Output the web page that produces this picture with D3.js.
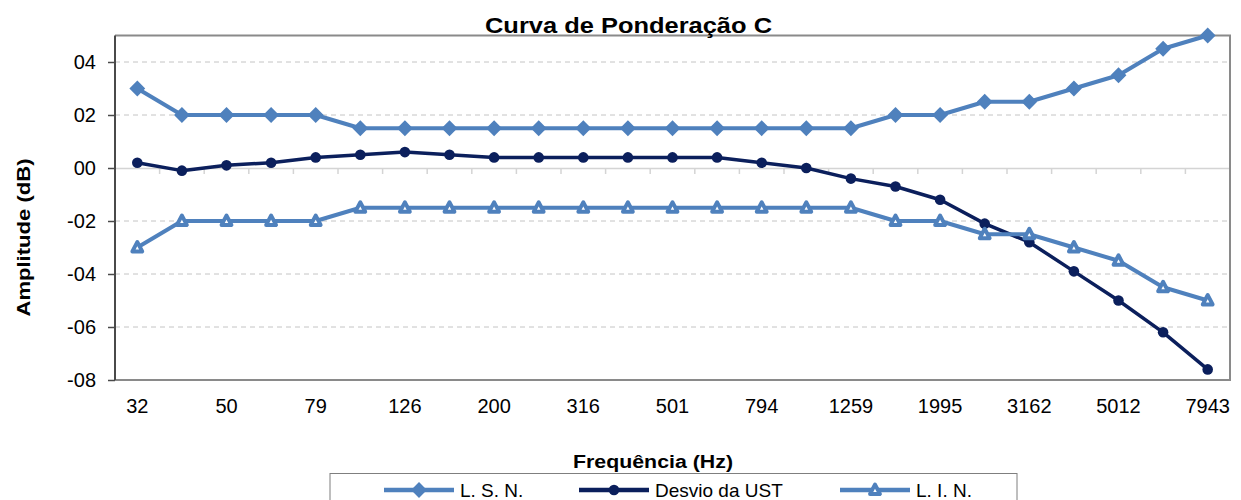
<!DOCTYPE html>
<html>
<head>
<meta charset="utf-8">
<script src="https://cdn.jsdelivr.net/npm/d3@7"></script>
<style>
  html, body { margin: 0; padding: 0; background: #fff; }
  svg { display: block; font-family: "Liberation Sans", Arial, sans-serif; }
</style>
</head>
<body>
<svg id="chart" width="1241" height="500"></svg>
<script>
// 1/3-octave band centre frequencies (Hz)
const categories = ["32","40","50","63","79","100","126","158","200","251","316","398","501","631","794","1000","1259","1585","1995","2512","3162","3981","5012","6310","7943"];
// Upper tolerance limit (L. S. N.)
const lsn = [3,2,2,2,2,1.5,1.5,1.5,1.5,1.5,1.5,1.5,1.5,1.5,1.5,1.5,1.5,2,2,2.5,2.5,3,3.5,4.5,5];
// Measured deviation of the unit under test
const desvio = [0.2,-0.1,0.1,0.2,0.4,0.5,0.6,0.5,0.4,0.4,0.4,0.4,0.4,0.4,0.2,0,-0.4,-0.7,-1.2,-2.1,-2.8,-3.9,-5.0,-6.2,-7.6];
// Lower tolerance limit (L. I. N.)
const lin = [-3,-2,-2,-2,-2,-1.5,-1.5,-1.5,-1.5,-1.5,-1.5,-1.5,-1.5,-1.5,-1.5,-1.5,-1.5,-2,-2,-2.5,-2.5,-3,-3.5,-4.5,-5];
// Y axis ticks and their labels
const yTicks = [-8,-6,-4,-2,0,2,4];
const yTickLabels = ["-08","-06","-04","-02","00","02","04"];
// Frequencies that carry a label on the X axis
const xTickLabels = ["32","50","79","126","200","316","501","794","1259","1995","3162","5012","7943"];

const seriesNames = ["L. S. N.","Desvio da UST","L. I. N."];

const svg = d3.select("#chart");
const L = 115, R = 1230, T = 35.5, B = 380;

const x = d3.scaleBand().domain(categories).range([L, R]).paddingInner(0).paddingOuter(0);
const cx = c => x(c) + x.bandwidth() / 2;
const y = d3.scaleLinear().domain([-8, 5]).range([B, T]);

const light = "#4F81BD";
const dark = "#0B1F5C";

// Dashed horizontal gridlines
svg.append("g").selectAll("line")
  .data(yTicks.filter(v => v !== 0 && v !== -8))
  .join("line")
  .attr("x1", L).attr("x2", R)
  .attr("y1", d => y(d)).attr("y2", d => y(d))
  .attr("stroke", "#C4C4C4").attr("stroke-width", 1)
  .attr("stroke-dasharray", "5,4");

// Category axis drawn on the zero line
const xAxis = svg.append("g")
  .attr("transform", `translate(0,${y(0)})`)
  .call(d3.axisBottom(x).tickSize(0).tickFormat(""));
xAxis.select(".domain").attr("stroke", "#D4D4D4").attr("stroke-width", 1.5);
svg.append("g").selectAll("line")
  .data(d3.range(categories.length + 1))
  .join("line")
  .attr("x1", i => L + i * x.step()).attr("x2", i => L + i * x.step())
  .attr("y1", y(0)).attr("y2", y(0) + 6)
  .attr("stroke", "#D4D4D4").attr("stroke-width", 1.5);

// Plot frame (top, right, bottom)
svg.append("path")
  .attr("d", `M${L},${T}H${R}V${B}H${L}`)
  .attr("fill", "none").attr("stroke", "#8A8A8A").attr("stroke-width", 2);

// Value axis on the left
const yAxis = svg.append("g")
  .attr("transform", `translate(${L},0)`)
  .call(d3.axisLeft(y).tickValues(yTicks).tickSize(7).tickPadding(12)
    .tickFormat((d, i) => yTickLabels[i]));
yAxis.select(".domain").attr("d", `M0,${T}V${B}`).attr("stroke", "#4A4A4A").attr("stroke-width", 2);
yAxis.selectAll(".tick line").attr("stroke", "#4A4A4A").attr("stroke-width", 1.5);
yAxis.selectAll(".tick text")
  .attr("font-family", "Liberation Sans, Arial, sans-serif")
  .attr("font-size", 20).attr("fill", "#000");

// Frequency labels below the plot
svg.append("g").selectAll("text")
  .data(xTickLabels)
  .join("text")
  .attr("x", d => cx(d)).attr("y", 413)
  .attr("text-anchor", "middle")
  .attr("font-size", 20).attr("fill", "#000")
  .text(d => d);

// Lines and markers
const line = d3.line().x((d, i) => cx(categories[i])).y(d => y(d));
const series = [
  { name: seriesNames[0], values: lsn, color: light, marker: "diamond", width: 4 },
  { name: seriesNames[1], values: desvio, color: dark, marker: "circle", width: 3.5 },
  { name: seriesNames[2], values: lin, color: light, marker: "triangle", width: 4 }
];

function drawMarker(g, type, color) {
  if (type === "diamond") {
    g.append("path").attr("d", d3.symbol(d3.symbolDiamond2, 120)())
      .attr("fill", color).attr("stroke", color).attr("stroke-width", 1.5);
  } else if (type === "circle") {
    g.append("circle").attr("r", 5.3).attr("fill", color);
  } else {
    g.append("path").attr("d", "M0,-5.5L5,4L-5,4Z")
      .attr("fill", "#fff").attr("stroke", color).attr("stroke-width", 3.8)
      .attr("stroke-linejoin", "round");
  }
}

series.forEach(s => {
  svg.append("path")
    .datum(s.values)
    .attr("d", line)
    .attr("fill", "none")
    .attr("stroke", s.color)
    .attr("stroke-width", s.width)
    .attr("stroke-linejoin", "round");
  svg.append("g").selectAll("g")
    .data(s.values)
    .join("g")
    .attr("transform", (d, i) => `translate(${cx(categories[i])},${y(d)})`)
    .each(function () { drawMarker(d3.select(this), s.marker, s.color); });
});

// Title and axis titles
svg.append("text")
  .attr("x", 628.5).attr("y", 33)
  .attr("text-anchor", "middle")
  .attr("font-size", 22).attr("font-weight", "bold")
  .attr("textLength", 287).attr("lengthAdjust", "spacingAndGlyphs")
  .text("Curva de Ponderação C");

svg.append("text")
  .attr("transform", `translate(30,237.5) rotate(-90)`)
  .attr("text-anchor", "middle")
  .attr("font-size", 19).attr("font-weight", "bold")
  .attr("textLength", 158).attr("lengthAdjust", "spacingAndGlyphs")
  .text("Amplitude (dB)");

svg.append("text")
  .attr("x", 653).attr("y", 468)
  .attr("text-anchor", "middle")
  .attr("font-size", 18).attr("font-weight", "bold")
  .attr("textLength", 160).attr("lengthAdjust", "spacingAndGlyphs")
  .text("Frequência (Hz)");

// Legend
const legend = svg.append("g");
legend.append("rect")
  .attr("x", 330).attr("y", 473.5).attr("width", 687).attr("height", 40)
  .attr("fill", "#fff").attr("stroke", "#7F7F7F").attr("stroke-width", 1);
const legendX = [384, 579, 840];
series.forEach((s, i) => {
  const g = legend.append("g").attr("transform", `translate(${legendX[i]},490)`);
  g.append("line").attr("x1", 0).attr("x2", 70).attr("y1", 0).attr("y2", 0)
    .attr("stroke", s.color).attr("stroke-width", 4.5);
  const m = g.append("g").attr("transform", "translate(35,0)");
  drawMarker(m, s.marker, s.color);
  g.append("text").attr("x", 76).attr("y", 7)
    .attr("font-size", 19).attr("fill", "#000")
    .text(s.name);
});
</script>
</body>
</html>
